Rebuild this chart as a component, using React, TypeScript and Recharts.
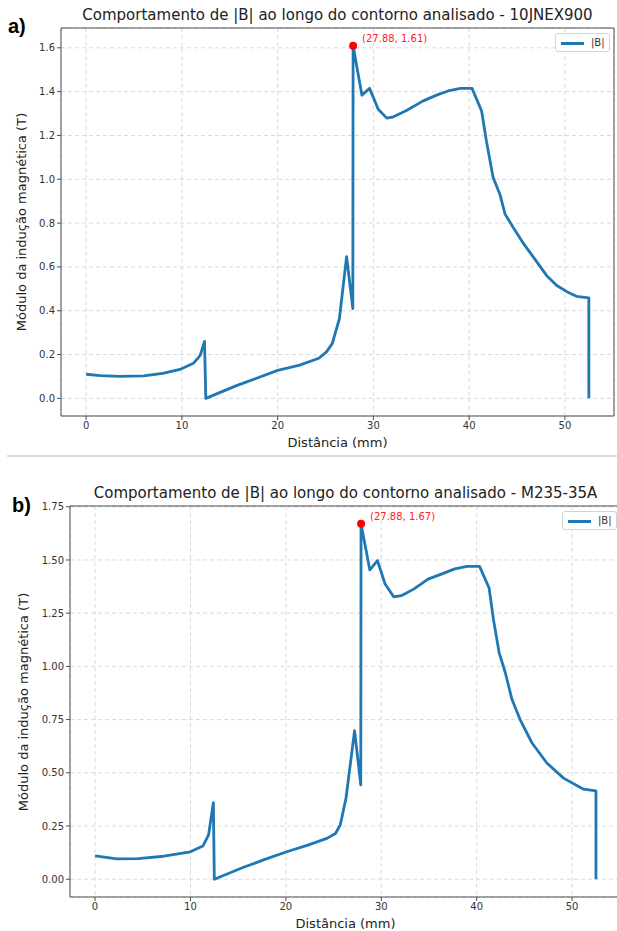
import {
  CartesianGrid,
  Line,
  LineChart,
  ReferenceDot,
  ReferenceLine,
  XAxis,
  YAxis,
} from "recharts";

// |B| along the contour, 10JNEX900
const distA = [
  0, 1.5, 3.5, 6, 8, 9.8, 11.2, 11.9, 12.36, 12.5, 15.7, 17.8, 20, 22.3, 24.3,
  25.1, 25.7, 26.45, 27.2, 27.85, 27.88, 28.8, 29.6, 30.5, 31.4, 32.1, 33.5,
  35.2, 36.6, 37.8, 39.1, 40.3, 41.3, 41.8, 42.5, 43.2, 43.75, 44.6, 45.7, 47.1,
  48.1, 49.15, 50.2, 51.2, 52.5, 52.5,
];
const fluxA = [
  0.11, 0.104, 0.1, 0.103, 0.114, 0.132, 0.16, 0.195, 0.26, 0.0, 0.058, 0.092,
  0.128, 0.152, 0.183, 0.212, 0.25, 0.364, 0.647, 0.41, 1.61, 1.384, 1.415,
  1.32, 1.279, 1.285, 1.315, 1.358, 1.384, 1.403, 1.415, 1.415, 1.312, 1.175,
  1.008, 0.933, 0.841, 0.78, 0.705, 0.621, 0.56, 0.515, 0.487, 0.466, 0.459, 0.0,
];
const peakA = { x: 27.88, y: 1.61 };

// |B| along the contour, M235-35A
const distB = [
  0, 2.3, 4.5, 7.2, 10, 11.3, 11.9, 12.4, 12.5, 15.5, 17.8, 20.1, 22.3, 24.3,
  25.2, 25.7, 26.3, 27.2, 27.85, 27.88, 28.8, 29.6, 30.4, 31.3, 32.1, 33.4,
  34.9, 36.5, 37.7, 39, 40.3, 41.3, 41.75, 42.35, 43, 43.7, 44.55, 45.8, 47.35,
  49.1, 51.2, 52.5, 52.5,
];
const fluxB = [
  0.11, 0.096, 0.097, 0.108, 0.129, 0.156, 0.208, 0.36, 0.0, 0.055, 0.093,
  0.129, 0.16, 0.192, 0.215, 0.255, 0.38, 0.698, 0.443, 1.67, 1.453, 1.497,
  1.387, 1.327, 1.332, 1.363, 1.41, 1.437, 1.458, 1.47, 1.47, 1.368, 1.222,
  1.065, 0.97, 0.844, 0.75, 0.64, 0.546, 0.475, 0.423, 0.415, 0.0,
];
const peakB = { x: 27.88, y: 1.67 };

const xTicks = [0, 10, 20, 30, 40, 50];
const yTicksA = [0, 0.2, 0.4, 0.6, 0.8, 1.0, 1.2, 1.4, 1.6];
const yTicksB = [0, 0.25, 0.5, 0.75, 1.0, 1.25, 1.5, 1.75];

const FONT = "'DejaVu Sans', sans-serif";
const BLUE = "#1f77b4";
const X_DOMAIN: [number, number] = [-2.625, 55.125];
const tickStyle = { fill: "#333", fontSize: 10, fontFamily: FONT };

interface PanelProps {
  tag: string;
  title: string;
  dist: number[];
  flux: number[];
  peak: { x: number; y: number };
  yTicks: number[];
  yDomain: [number, number];
  digits: number;
  top: number;
  width: number;
  height: number;
  axisWidth: number;
  marginRight: number;
  marginBottom: number;
  tagPos: { left: number; top: number };
  yLabelX: number;
}

function Panel(p: PanelProps) {
  const data = p.dist.map((d, i) => ({ d, b: p.flux[i] }));
  const plotLeft = p.axisWidth;
  const plotRight = p.width - p.marginRight;
  const plotTop = p.top + 28;
  const plotBottom = p.top + p.height - p.marginBottom - 30;
  const midX = (plotLeft + plotRight) / 2;
  const midY = (plotTop + plotBottom) / 2;

  return (
    <>
      <div
        style={{
          position: "absolute",
          left: p.tagPos.left,
          top: p.tagPos.top,
          fontFamily: "'Liberation Sans', Arial, sans-serif",
          fontWeight: 700,
          fontSize: 20,
          lineHeight: "22px",
          color: "#000",
        }}
      >
        {p.tag}
      </div>
      <div
        style={{
          position: "absolute",
          left: midX,
          top: plotTop - 22,
          transform: "translateX(-50%)",
          whiteSpace: "nowrap",
          fontFamily: FONT,
          fontSize: 15,
          lineHeight: "18px",
          color: "#222",
        }}
      >
        {p.title}
      </div>
      <div style={{ position: "absolute", left: 0, top: p.top }}>
        <LineChart
          width={p.width}
          height={p.height}
          data={data}
          margin={{ top: 28, right: p.marginRight, bottom: p.marginBottom, left: 0 }}
        >
          <CartesianGrid stroke="#dadada" strokeDasharray="4 3" />
          <XAxis
            dataKey="d"
            type="number"
            domain={X_DOMAIN}
            ticks={xTicks}
            allowDataOverflow
            height={30}
            tick={tickStyle}
            tickSize={4}
            stroke="#4d4d4d"
          />
          <YAxis
            type="number"
            domain={p.yDomain}
            ticks={p.yTicks}
            allowDataOverflow
            width={p.axisWidth}
            tick={tickStyle}
            tickSize={4}
            tickFormatter={(v: number) => v.toFixed(p.digits)}
            stroke="#4d4d4d"
          />
          <ReferenceLine x={X_DOMAIN[1]} stroke="#4d4d4d" />
          <ReferenceLine y={p.yDomain[1]} stroke="#4d4d4d" />
          <Line
            dataKey="b"
            type="linear"
            stroke={BLUE}
            strokeWidth={2.8}
            strokeLinejoin="round"
            dot={false}
            isAnimationActive={false}
          />
          <ReferenceDot
            x={p.peak.x}
            y={p.peak.y}
            r={4}
            fill="#ff0000"
            stroke="none"
            label={(lp: any) => (
              <text
                x={lp.viewBox.x + 13}
                y={lp.viewBox.y}
                fill="#ff2020"
                fontSize={10}
                fontFamily={FONT}
              >
                {`(${p.peak.x.toFixed(2)}, ${p.peak.y.toFixed(2)})`}
              </text>
            )}
          />
        </LineChart>
      </div>
      <div
        style={{
          position: "absolute",
          left: plotRight - 59,
          top: plotTop + 5,
          width: 55,
          height: 19,
          boxSizing: "border-box",
          background: "#fff",
          border: "1px solid #d4d4d4",
          borderRadius: 3,
        }}
      >
        <div
          style={{
            position: "absolute",
            left: 5,
            top: 8,
            width: 23,
            height: 3,
            background: BLUE,
          }}
        />
        <div
          style={{
            position: "absolute",
            left: 35,
            top: 2,
            fontFamily: FONT,
            fontSize: 10,
            lineHeight: "13px",
            color: "#333",
          }}
        >
          |B|
        </div>
      </div>
      <div
        style={{
          position: "absolute",
          left: midX,
          top: plotBottom + 19,
          transform: "translateX(-50%)",
          whiteSpace: "nowrap",
          fontFamily: FONT,
          fontSize: 13,
          lineHeight: "16px",
          color: "#222",
        }}
      >
        Distância (mm)
      </div>
      <div
        style={{
          position: "absolute",
          left: p.yLabelX,
          top: midY,
          transform: "translate(-50%, -50%) rotate(-90deg)",
          whiteSpace: "nowrap",
          fontFamily: FONT,
          fontSize: 13,
          lineHeight: "16px",
          color: "#222",
        }}
      >
        Módulo da indução magnética (T)
      </div>
    </>
  );
}

export default function App() {
  return (
    <div
      style={{
        position: "absolute",
        left: 0,
        top: 0,
        width: 617,
        height: 931,
        overflow: "hidden",
        background: "#fff",
      }}
    >
      <Panel
        tag="a)"
        title="Comportamento de |B| ao longo do contorno analisado - 10JNEX900"
        dist={distA}
        flux={fluxA}
        peak={peakA}
        yTicks={yTicksA}
        yDomain={[-0.0805, 1.6905]}
        digits={1}
        top={0}
        width={617}
        height={460}
        axisWidth={61}
        marginRight={3}
        marginBottom={14}
        tagPos={{ left: 8, top: 15 }}
        yLabelX={22}
      />
      <div
        style={{
          position: "absolute",
          left: 7,
          top: 455,
          width: 610,
          height: 2,
          background: "#dcdcdc",
        }}
      />
      <Panel
        tag="b)"
        title="Comportamento de |B| ao longo do contorno analisado - M235-35A"
        dist={distB}
        flux={fluxB}
        peak={peakB}
        yTicks={yTicksB}
        yDomain={[-0.0835, 1.7535]}
        digits={2}
        top={478}
        width={630}
        height={450}
        axisWidth={70}
        marginRight={9}
        marginBottom={1}
        tagPos={{ left: 12, top: 494 }}
        yLabelX={24}
      />
    </div>
  );
}
